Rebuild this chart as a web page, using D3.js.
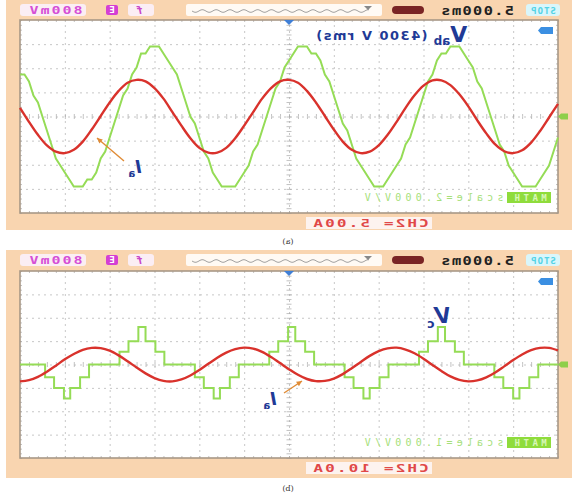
<!DOCTYPE html>
<html lang="en">
<head>
<meta charset="utf-8">
<title>Scope captures (a) and (b)</title>
<style>
  body { margin: 0; background: #fff; }
  svg { display: block; font-family: "DejaVu Sans", sans-serif; }
</style>
</head>
<body>
<script src="https://d3js.org/d3.v7.min.js"></script>
<script>
// time base: 12 divisions of 5 ms
var timeDivs = [0, 5, 10, 15, 20, 25, 30, 35, 40, 45, 50, 55, 60];
var voltDivs = [-4, -3, -2, -1, 0, 1, 2, 3, 4];

// (a) Vab staircase, one level per 0.5 ms (level = 0.29 div)
var vabStepMs = 0.5;
var vabLevelDiv = 0.29;
var vabLevels = [
  6, 6, 5, 3, 2, 0, -2, -4, -6, -7,
  -8, -9, -10, -10, -10, -9, -9, -8, -6, -5,
  -3, -1, 1, 3, 4, 6, 7, 9, 9, 10,
  10, 10, 9, 8, 7, 6, 4, 2, 0, -1,
  -3, -5, -6, -8, -9, -10, -10, -10, -10, -9,
  -8, -7, -5, -4, -2, 0, 2, 4, 5, 7,
  8, 9, 10, 10, 10, 9, 9, 8, 6, 5,
  3, 1, -1, -2, -4, -6, -7, -8, -9, -10,
  -10, -10, -9, -8, -7, -6, -4, -3, -1, 1,
  3, 5, 6, 8, 9, 9, 10, 10, 10, 9,
  8, 7, 5, 4, 2, 0, -2, -4, -5, -7,
  -8, -9, -10, -10, -10, -10, -9, -8, -7, -5,
  -3
];

// (a) Ia in A, one sample per ms (CH2 = 5.00 A/div)
var iaA = [
  1.8, -1.1, -3.8, -6.0, -7.3, -7.6, -6.9, -5.2, -2.7, 0.1,
  2.9, 5.3, 7.0, 7.6, 7.3, 5.9, 3.7, 0.9, -1.9, -4.5,
  -6.5, -7.5, -7.5, -6.5, -4.5, -1.9, 0.9, 3.7, 5.9, 7.3,
  7.6, 7.0, 5.3, 2.9, 0.1, -2.7, -5.2, -6.9, -7.6, -7.3,
  -6.0, -3.8, -1.1, 1.8, 4.4, 6.4, 7.5, 7.5, 6.5, 4.6,
  2.1, -0.8, -3.5, -5.8, -7.2, -7.6, -7.0, -5.4, -3.0, -0.2,
  2.6
];

// (b) Ia in A, one sample per ms (CH2 = 10.0 A/div)
var iaB = [
  -7.2, -6.7, -5.3, -3.1, -0.5, 2.2, 4.5, 6.3, 7.1, 7.0,
  5.9, 3.9, 1.4, -1.3, -3.8, -5.8, -7.0, -7.2, -6.4, -4.7,
  -2.4, 0.3, 2.9, 5.1, 6.6, 7.2, 6.8, 5.4, 3.2, 0.6,
  -2.0, -4.4, -6.2, -7.1, -7.0, -6.0, -4.1, -1.6, 1.1, 3.7,
  5.7, 6.9, 7.2, 6.4, 4.8, 2.5, -0.2, -2.8, -5.1, -6.6,
  -7.2, -6.8, -5.5, -3.4, -0.8, 1.9, 4.3, 6.1, 7.1, 7.1,
  6.0
];

// (b) Vc cell voltage: step times (ms) and levels (div)
var vcTimes = [0,
  2.8, 3.8, 4.9, 5.6, 6.7, 7.7,
  11.1, 12.1, 13.2, 14.0, 15.1, 16.1,
  19.5, 20.5, 21.6, 22.3, 23.4, 24.4,
  27.8, 28.8, 29.9, 30.7, 31.8, 32.8,
  36.2, 37.2, 38.3, 39.0, 40.1, 41.1,
  44.5, 45.5, 46.6, 47.4, 48.5, 49.5,
  52.9, 53.9, 55.0, 55.7, 56.8, 57.8,
  60];
var vcLevels = [0,
  -0.55, -1, -1.45, -1, -0.55, 0,
  0.55, 1, 1.6, 1, 0.55, 0,
  -0.55, -1, -1.45, -1, -0.55, 0,
  0.55, 1, 1.6, 1, 0.55, 0,
  -0.55, -1, -1.45, -1, -0.55, 0,
  0.55, 1, 1.6, 1, 0.55, 0,
  -0.55, -1, -1.45, -1, -0.55, 0,
  0];

var W = 576, H = 495;
var svg = d3.select("body").append("svg").attr("width", W).attr("height", H);

var x = d3.scaleLinear().domain([0, 60]).range([20, 558]);

var peach = "#f9d5b0";
var green = "#95dc56";
var red = "#d9322c";
var navy = "#1f3a96";
var mono = "'DejaVu Sans Mono', monospace";

// text drawn mirrored (and optionally stretched), as in the captured screenshot
function mtext(g, cx, y, str, size, color, spacing, weight, sx) {
  return g.append("text")
    .attr("transform", "translate(" + cx + "," + y + ") scale(" + (-(sx || 1)) + ",1)")
    .attr("text-anchor", "middle")
    .style("font-family", mono)
    .style("font-size", size + "px")
    .style("letter-spacing", (spacing || 0) + "px")
    .style("font-weight", weight || "bold")
    .style("fill", color)
    .text(str);
}

function drawPanel(p) {
  var g = svg.append("g");
  var y = d3.scaleLinear().domain([-4, 4]).range([p.plotBottom, p.plotTop]);
  var yI = d3.scaleLinear().domain([-4 * p.ampsPerDiv, 4 * p.ampsPerDiv]).range([p.plotBottom, p.plotTop]);
  var midY = y(0), midX = x(30);

  // frame
  g.append("rect").attr("x", 6).attr("y", p.top).attr("width", 566).attr("height", p.frameBottom - p.top)
    .attr("fill", peach);

  // top status bar
  var by = p.top + 4;
  g.append("rect").attr("x", 20).attr("y", by).attr("width", 66).attr("height", 12).attr("rx", 3).attr("fill", "#fbeef4");
  mtext(g, 55, by + 10, "800mV", 11, "#d64fd6", 1.5, "bold", 1.35);
  g.append("rect").attr("x", 106).attr("y", by + 1).attr("width", 12).attr("height", 10).attr("rx", 2).attr("fill", "#d43fd4");
  mtext(g, 112, by + 9, "E", 9, "#fff");
  g.append("rect").attr("x", 128).attr("y", by).attr("width", 26).attr("height", 12).attr("rx", 3).attr("fill", "#fbeef4");
  mtext(g, 140, by + 10, "f", 11, "#c847c8").style("font-style", "italic");
  g.append("rect").attr("x", 186).attr("y", by).attr("width", 196).attr("height", 12).attr("rx", 2).attr("fill", "#fffaf4");
  var wav = d3.range(192, 370, 1);
  g.append("path")
    .attr("d", d3.line().x(function(d) { return d; }).y(function(d) { return by + 7 + 1.3 * Math.sin((d - 192) / 2.2); })(wav))
    .attr("fill", "none").attr("stroke", "#8a8a8a").attr("stroke-width", 0.8);
  g.append("path").attr("d", "M364," + (by + 2) + "h8l-4,4z").attr("fill", "#888");
  g.append("rect").attr("x", 392).attr("y", by + 2).attr("width", 32).attr("height", 8).attr("rx", 4).attr("fill", "#7a2424");
  mtext(g, 477, by + 11, "5.000ms", 13, "#222", 1, "bold", 1.2);
  g.append("rect").attr("x", 526).attr("y", by).attr("width", 34).attr("height", 12).attr("rx", 3).attr("fill", "#d9f6fb");
  mtext(g, 543, by + 9.5, "STOP", 9, "#55d3e6", 1);

  // plot area
  g.append("rect").attr("x", x(0)).attr("y", p.plotTop).attr("width", x(60) - x(0))
    .attr("height", p.plotBottom - p.plotTop).attr("fill", "#fff");

  // grid
  var gx = g.append("g").attr("transform", "translate(0," + p.plotBottom + ")")
    .call(d3.axisBottom(x).tickValues(timeDivs.slice(1, -1)).tickSize(-(p.plotBottom - p.plotTop)).tickFormat(""));
  var gy = g.append("g").attr("transform", "translate(" + x(0) + ",0)")
    .call(d3.axisLeft(y).tickValues(voltDivs.slice(1, -1)).tickSize(-(x(60) - x(0))).tickFormat(""));
  [gx, gy].forEach(function(a) {
    a.select(".domain").remove();
    a.selectAll("line").attr("stroke", "#b9b9b9").attr("stroke-width", 0.8).attr("stroke-dasharray", "2,4");
  });

  // minor ticks on centre axes and border
  var minorT = d3.range(0, 60.01, 1);
  var minorV = d3.range(-4, 4.01, 0.2);
  function minor(axis, tr) {
    var a = g.append("g").attr("transform", tr).call(axis.tickFormat(""));
    a.select(".domain").remove();
    a.selectAll("line").attr("stroke", "#a8a8a8").attr("stroke-width", 0.7);
  }
  minor(d3.axisTop(x).tickValues(minorT).tickSize(2.5), "translate(0," + midY + ")");
  minor(d3.axisBottom(x).tickValues(minorT).tickSize(2.5), "translate(0," + midY + ")");
  minor(d3.axisLeft(y).tickValues(minorV).tickSize(2.5), "translate(" + midX + ",0)");
  minor(d3.axisRight(y).tickValues(minorV).tickSize(2.5), "translate(" + midX + ",0)");
  minor(d3.axisBottom(x).tickValues(minorT).tickSize(2), "translate(0," + p.plotTop + ")");
  minor(d3.axisTop(x).tickValues(minorT).tickSize(2), "translate(0," + p.plotBottom + ")");
  minor(d3.axisRight(y).tickValues(minorV).tickSize(2), "translate(" + x(0) + ",0)");
  minor(d3.axisLeft(y).tickValues(minorV).tickSize(2), "translate(" + x(60) + ",0)");

  g.append("rect").attr("x", x(0)).attr("y", p.plotTop).attr("width", x(60) - x(0))
    .attr("height", p.plotBottom - p.plotTop).attr("fill", "none").attr("stroke", "#a89886").attr("stroke-width", 1.6);

  // green trace
  g.append("path").datum(p.greenPts)
    .attr("d", d3.line().x(function(d) { return x(d[0]); }).y(function(d) { return y(d[1]); }).curve(p.greenCurve))
    .attr("fill", "none").attr("stroke", green).attr("stroke-width", 2);

  // red current trace
  var reds = p.current.map(function(v, i) { return [i, v]; });
  g.append("path").datum(reds)
    .attr("d", d3.line().x(function(d) { return x(d[0]); }).y(function(d) { return yI(d[1]); }).curve(d3.curveCatmullRom))
    .attr("fill", "none").attr("stroke", red).attr("stroke-width", 2.4);

  // scope markers
  g.append("path").attr("d", "M" + (midX - 5) + "," + p.plotTop + "h10l-5,5z").attr("fill", "#3f7fd6");
  g.append("path").attr("d", "M541," + (p.plotTop + 7) + "h12v7h-12l-3,-3.5z").attr("fill", "#3b8fe2");
  g.append("path").attr("d", "M568," + (midY - 3) + "h-7l-3,3l3,3h7z").attr("fill", "#8ecf4a");

  // channel readouts
  var ly = p.plotBottom - 16;
  mtext(g, 432, ly + 4, p.scaleText, 10, "#a6e07a", 4.2, "normal");
  g.append("rect").attr("x", 507).attr("y", ly - 5).attr("width", 44).attr("height", 11).attr("fill", "#8fdc3c");
  mtext(g, 529, ly + 4, "MATH", 9, "#d8f7b8", 3.5);
  g.append("rect").attr("x", 306).attr("y", p.plotBottom + 4).attr("width", 126).attr("height", 12).attr("fill", "#fdf3ef");
  mtext(g, 370, p.plotBottom + 14, p.chText, 11, "#e04848", 1.5, "bold", 1.45);

  // caption
  mtext(svg, 288, p.captionY, p.caption, 8, "#333", 0, "normal").style("font-family", "DejaVu Serif, serif");
  return g;
}

function arrow(g, x1, y1, x2, y2) {
  var a = Math.atan2(y2 - y1, x2 - x1), s = 6;
  g.append("line").attr("x1", x1).attr("y1", y1).attr("x2", x2).attr("y2", y2)
    .attr("stroke", "#e08b35").attr("stroke-width", 1.4);
  g.append("path").attr("d", "M" + x2 + "," + y2 +
      "L" + (x2 - s * Math.cos(a - 0.45)) + "," + (y2 - s * Math.sin(a - 0.45)) +
      "L" + (x2 - s * Math.cos(a + 0.45)) + "," + (y2 - s * Math.sin(a + 0.45)) + "z")
    .attr("fill", "#e08b35");
}

function subLabel(g, cx, y, main, sub, size) {
  var t = g.append("text")
    .attr("transform", "translate(" + cx + "," + y + ") scale(-1,1)")
    .attr("text-anchor", "middle").style("fill", navy).style("font-weight", "bold");
  t.append("tspan").style("font-size", size + "px").style("font-style", "italic").text(main);
  t.append("tspan").attr("dy", size * 0.25).style("font-size", (size * 0.6) + "px").text(sub);
  return t;
}

var vabPts = vabLevels.map(function(l, i) { return [i * vabStepMs, l * vabLevelDiv]; });
var vcPts = vcTimes.map(function(t, i) { return [t, vcLevels[i]]; });

var pa = drawPanel({
  top: 0, frameBottom: 230, plotTop: 20, plotBottom: 213, ampsPerDiv: 5,
  greenPts: vabPts, greenCurve: d3.curveLinear, current: iaA,
  scaleText: "scale=2.000V/V", chText: "CH2= 5.00A",
  caption: "(a)", captionY: 244
});
var pb = drawPanel({
  top: 250, frameBottom: 478, plotTop: 271, plotBottom: 458, ampsPerDiv: 10,
  greenPts: vcPts, greenCurve: d3.curveStepAfter, current: iaB,
  scaleText: "scale=1.000V/V", chText: "CH2= 10.0A",
  caption: "(b)", captionY: 491
});

// annotations (a)
var va = pa.append("text")
  .attr("transform", "translate(391,42) scale(-1,1)")
  .attr("text-anchor", "middle").style("fill", navy).style("font-weight", "bold");
va.append("tspan").style("font-size", "22px").text("V");
va.append("tspan").attr("dy", 3).style("font-size", "12px").text("ab");
va.append("tspan").attr("dy", -5).style("font-size", "13px").style("letter-spacing", "1.5px").text(" (4300 V rms)");
subLabel(pa, 135, 173, "I", "a", 17);
arrow(pa, 124, 161, 97, 138);

// annotations (b)
subLabel(pb, 439, 323, "V", "c", 21);
subLabel(pb, 270, 405, "I", "a", 17);
arrow(pb, 284, 393, 302, 381);
</script>
</body>
</html>
